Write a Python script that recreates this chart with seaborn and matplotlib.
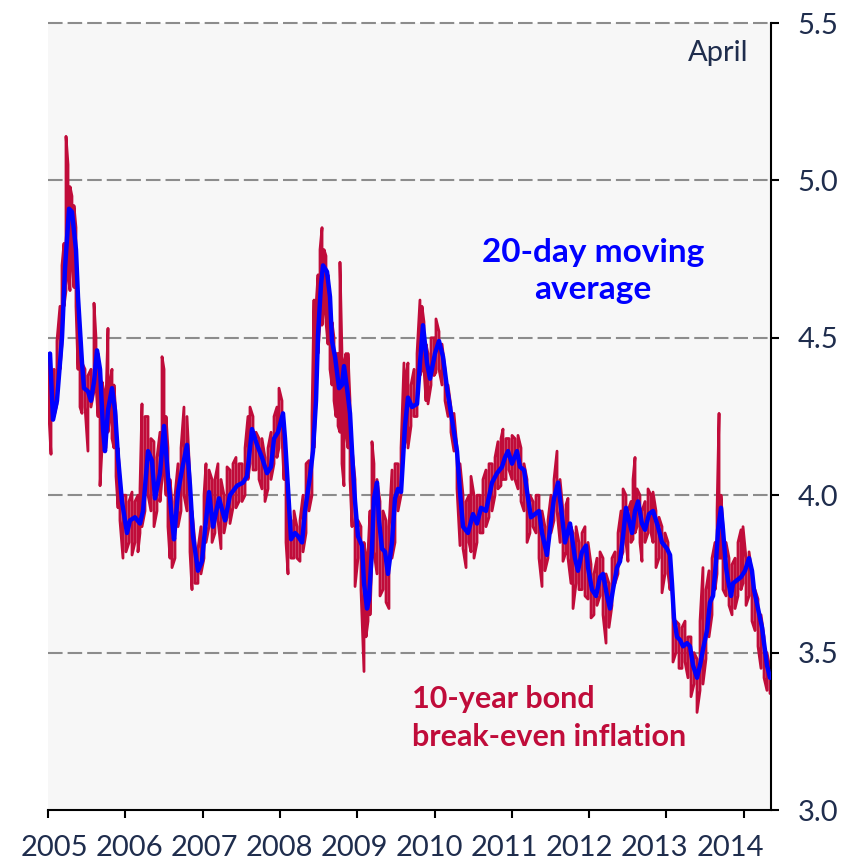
import numpy as np
import pandas as pd
import matplotlib.pyplot as plt
import seaborn as sns

# 20-day moving average: years since 2005-01-01 and level (%)
blue_t = [
    0.026, 0.065, 0.116, 0.181, 0.220, 0.272, 0.310, 0.362, 0.388, 0.440,
    0.466, 0.517, 0.556, 0.595, 0.634, 0.673, 0.712, 0.737, 0.776, 0.828,
    0.867, 0.906, 0.957, 1.022, 1.061, 1.125, 1.190, 1.229, 1.294, 1.345,
    1.384, 1.449, 1.501, 1.552, 1.604, 1.630, 1.682, 1.733, 1.798, 1.837,
    1.876, 1.940, 1.992, 2.031, 2.083, 2.135, 2.212, 2.290, 2.354, 2.445,
    2.523, 2.574, 2.639, 2.704, 2.768, 2.833, 2.885, 2.924, 2.975, 3.040,
    3.066, 3.105, 3.144, 3.195, 3.234, 3.286, 3.325, 3.389, 3.428, 3.467,
    3.493, 3.532, 3.558, 3.609, 3.648, 3.674, 3.713, 3.765, 3.803, 3.829,
    3.868, 3.907, 3.946, 3.972, 4.010, 4.062, 4.088, 4.127, 4.153, 4.191,
    4.217, 4.256, 4.282, 4.321, 4.360, 4.398, 4.450, 4.489, 4.528, 4.567,
    4.618, 4.657, 4.709, 4.774, 4.812, 4.851, 4.903, 4.942, 5.006, 5.058,
    5.110, 5.162, 5.226, 5.291, 5.330, 5.369, 5.433, 5.498, 5.550, 5.602,
    5.666, 5.744, 5.809, 5.873, 5.912, 5.951, 6.003, 6.067, 6.106, 6.158,
    6.210, 6.248, 6.300, 6.352, 6.391, 6.455, 6.494, 6.546, 6.598, 6.637,
    6.688, 6.753, 6.817, 6.856, 6.908, 6.960, 6.986, 7.037, 7.089, 7.141,
    7.180, 7.232, 7.270, 7.309, 7.361, 7.400, 7.439, 7.477, 7.516, 7.555,
    7.594, 7.633, 7.684, 7.723, 7.775, 7.827, 7.891, 7.943, 8.008, 8.047,
    8.072, 8.098, 8.137, 8.176, 8.215, 8.267, 8.305, 8.344, 8.396, 8.435,
    8.473, 8.525, 8.564, 8.603, 8.642, 8.668, 8.706, 8.732, 8.771, 8.797,
    8.836, 8.862, 8.913, 8.965, 9.017, 9.069, 9.107, 9.133, 9.185, 9.237,
    9.263, 9.301, 9.340,
]
blue_val = [
    4.45, 4.24, 4.30, 4.50, 4.72, 4.91, 4.90, 4.78, 4.63, 4.42,
    4.34, 4.33, 4.30, 4.36, 4.46, 4.40, 4.21, 4.14, 4.27, 4.34,
    4.27, 4.12, 3.98, 3.88, 3.92, 3.93, 3.91, 3.95, 4.14, 4.11,
    3.99, 4.07, 4.22, 4.06, 3.92, 3.86, 4.01, 4.08, 4.16, 4.03,
    3.87, 3.76, 3.79, 3.89, 4.01, 3.90, 3.99, 3.92, 4.00, 4.03,
    4.04, 4.06, 4.21, 4.16, 4.12, 4.07, 4.09, 4.18, 4.20, 4.26,
    4.18, 4.02, 3.86, 3.88, 3.87, 3.85, 3.95, 4.06, 4.14, 4.30,
    4.51, 4.67, 4.73, 4.71, 4.63, 4.49, 4.44, 4.34, 4.35, 4.41,
    4.34, 4.26, 4.08, 3.98, 3.87, 3.84, 3.72, 3.64, 3.67, 3.83,
    3.99, 4.04, 3.92, 3.83, 3.82, 3.75, 3.85, 3.99, 4.02, 4.01,
    4.22, 4.31, 4.28, 4.29, 4.42, 4.54, 4.42, 4.37, 4.45, 4.49,
    4.44, 4.34, 4.24, 4.14, 4.01, 3.90, 3.88, 3.94, 3.91, 3.96,
    3.95, 4.04, 4.07, 4.09, 4.12, 4.14, 4.10, 4.14, 4.09, 4.08,
    3.99, 3.93, 3.94, 3.95, 3.88, 3.81, 3.89, 3.99, 4.04, 3.96,
    3.85, 3.91, 3.80, 3.76, 3.82, 3.84, 3.77, 3.70, 3.68, 3.74,
    3.75, 3.68, 3.64, 3.70, 3.77, 3.79, 3.87, 3.96, 3.92, 3.88,
    3.95, 3.98, 3.91, 3.89, 3.94, 3.95, 3.90, 3.85, 3.83, 3.81,
    3.72, 3.61, 3.55, 3.54, 3.52, 3.53, 3.52, 3.46, 3.42, 3.46,
    3.51, 3.57, 3.66, 3.68, 3.79, 3.89, 3.96, 3.89, 3.77, 3.73,
    3.68, 3.72, 3.73, 3.74, 3.76, 3.80, 3.76, 3.70, 3.64, 3.58,
    3.53, 3.46, 3.42,
]

# daily break-even: high / low of each ~2-week stretch
red_t = [
    0.013, 0.039, 0.078, 0.116, 0.155, 0.181, 0.207, 0.233, 0.259, 0.285,
    0.310, 0.336, 0.362, 0.388, 0.414, 0.440, 0.479, 0.517, 0.556, 0.595,
    0.621, 0.647, 0.673, 0.699, 0.724, 0.750, 0.776, 0.802, 0.828, 0.854,
    0.880, 0.906, 0.931, 0.970, 1.009, 1.048, 1.087, 1.125, 1.164, 1.190,
    1.216, 1.255, 1.294, 1.332, 1.371, 1.410, 1.449, 1.475, 1.501, 1.527,
    1.552, 1.578, 1.604, 1.643, 1.682, 1.721, 1.759, 1.798, 1.837, 1.863,
    1.902, 1.940, 1.979, 2.018, 2.044, 2.083, 2.122, 2.160, 2.199, 2.238,
    2.277, 2.316, 2.354, 2.393, 2.432, 2.471, 2.510, 2.549, 2.587, 2.613,
    2.652, 2.691, 2.730, 2.768, 2.807, 2.846, 2.885, 2.924, 2.962, 2.988,
    3.027, 3.053, 3.079, 3.105, 3.144, 3.182, 3.221, 3.260, 3.299, 3.338,
    3.376, 3.415, 3.441, 3.467, 3.493, 3.519, 3.545, 3.571, 3.596, 3.622,
    3.648, 3.674, 3.700, 3.726, 3.752, 3.777, 3.803, 3.829, 3.855, 3.881,
    3.907, 3.933, 3.972, 4.010, 4.049, 4.088, 4.114, 4.140, 4.166, 4.191,
    4.217, 4.256, 4.295, 4.334, 4.373, 4.411, 4.450, 4.489, 4.528, 4.567,
    4.605, 4.631, 4.657, 4.696, 4.735, 4.774, 4.812, 4.838, 4.864, 4.890,
    4.916, 4.955, 4.994, 5.019, 5.058, 5.097, 5.136, 5.175, 5.213, 5.252,
    5.291, 5.330, 5.369, 5.408, 5.446, 5.472, 5.511, 5.550, 5.589, 5.627,
    5.666, 5.705, 5.744, 5.783, 5.821, 5.860, 5.886, 5.925, 5.964, 6.003,
    6.041, 6.080, 6.119, 6.158, 6.197, 6.235, 6.274, 6.313, 6.352, 6.391,
    6.429, 6.468, 6.507, 6.546, 6.585, 6.624, 6.662, 6.701, 6.727, 6.766,
    6.792, 6.831, 6.869, 6.908, 6.947, 6.986, 7.025, 7.063, 7.102, 7.141,
    7.180, 7.219, 7.257, 7.296, 7.335, 7.374, 7.413, 7.439, 7.477, 7.503,
    7.542, 7.568, 7.594, 7.620, 7.658, 7.684, 7.723, 7.762, 7.801, 7.827,
    7.865, 7.904, 7.943, 7.982, 8.021, 8.047, 8.085, 8.124, 8.163, 8.202,
    8.241, 8.279, 8.318, 8.357, 8.396, 8.435, 8.473, 8.512, 8.551, 8.590,
    8.629, 8.655, 8.681, 8.706, 8.732, 8.771, 8.810, 8.849, 8.888, 8.926,
    8.965, 8.991, 9.030, 9.069, 9.107, 9.146, 9.185, 9.224, 9.263, 9.301,
    9.340,
]
red_hi = [
    4.45, 4.30, 4.40, 4.49, 4.60, 4.73, 4.80, 5.14, 5.05, 4.98,
    4.95, 4.92, 4.85, 4.57, 4.50, 4.42, 4.40, 4.38, 4.40, 4.61,
    4.50, 4.45, 4.30, 4.36, 4.33, 4.30, 4.53, 4.36, 4.40, 4.35,
    4.25, 4.15, 4.05, 4.00, 4.00, 3.98, 4.01, 3.98, 4.00, 4.02,
    4.29, 4.25, 4.25, 4.18, 4.17, 4.12, 4.20, 4.44, 4.40, 4.25,
    4.15, 4.05, 3.98, 4.00, 4.10, 4.15, 4.28, 4.25, 4.05, 3.95,
    3.85, 3.83, 3.90, 4.00, 4.10, 4.08, 4.05, 4.05, 4.10, 4.05,
    4.00, 4.09, 4.08, 4.10, 4.12, 4.10, 4.10, 4.15, 4.25, 4.28,
    4.25, 4.20, 4.18, 4.18, 4.12, 4.15, 4.20, 4.25, 4.28, 4.34,
    4.30, 4.22, 4.05, 3.95, 3.92, 3.95, 3.90, 3.92, 4.00, 4.10,
    4.11, 4.25, 4.62, 4.60, 4.70, 4.78, 4.85, 4.78, 4.76, 4.70,
    4.60, 4.55, 4.50, 4.45, 4.45, 4.74, 4.45, 4.42, 4.45, 4.45,
    4.30, 4.15, 4.05, 3.92, 3.90, 3.85, 3.80, 3.82, 3.95, 4.17,
    4.10, 4.05, 3.98, 3.95, 3.92, 3.90, 4.08, 4.10, 4.10, 4.15,
    4.42, 4.38, 4.42, 4.35, 4.40, 4.45, 4.62, 4.60, 4.55, 4.48,
    4.45, 4.50, 4.50, 4.56, 4.52, 4.48, 4.40, 4.35, 4.28, 4.26,
    4.15, 4.10, 4.00, 3.98, 4.00, 4.06, 4.00, 4.00, 4.00, 4.05,
    4.08, 4.10, 4.10, 4.12, 4.17, 4.18, 4.21, 4.18, 4.18, 4.19,
    4.18, 4.19, 4.15, 4.10, 4.05, 4.00, 3.98, 4.00, 4.00, 3.95,
    3.90, 3.92, 4.00, 4.05, 4.14, 4.05, 3.95, 3.97, 3.99, 3.90,
    3.88, 3.90, 3.85, 3.88, 3.90, 3.85, 3.78, 3.75, 3.80, 3.82,
    3.80, 3.75, 3.72, 3.80, 3.82, 3.88, 3.95, 4.02, 4.00, 3.95,
    3.98, 4.05, 4.12, 4.02, 4.00, 3.95, 3.98, 4.02, 4.00, 4.01,
    3.95, 3.93, 3.90, 3.88, 3.85, 3.80, 3.65, 3.60, 3.59, 3.58,
    3.60, 3.55, 3.55, 3.50, 3.48, 3.60, 3.77, 3.70, 3.76, 3.80,
    3.85, 3.95, 4.26, 4.00, 3.90, 3.85, 3.80, 3.78, 3.80, 3.85,
    3.89, 3.90, 3.80, 3.82, 3.75, 3.70, 3.67, 3.62, 3.55, 3.50,
    3.45,
]
red_lo = [
    4.25, 4.13, 4.25, 4.29, 4.40, 4.48, 4.60, 4.65, 4.70, 4.65,
    4.75, 4.66, 4.60, 4.40, 4.28, 4.26, 4.28, 4.14, 4.28, 4.33,
    4.35, 4.25, 4.03, 4.15, 4.14, 4.15, 4.20, 4.25, 4.18, 4.15,
    4.06, 3.96, 3.92, 3.80, 3.82, 3.85, 3.81, 3.85, 3.82, 3.88,
    3.90, 3.95, 4.00, 3.95, 3.90, 3.95, 3.98, 4.05, 4.10, 4.00,
    3.90, 3.80, 3.77, 3.80, 3.90, 3.95, 4.00, 3.95, 3.82, 3.70,
    3.72, 3.72, 3.75, 3.80, 3.85, 3.90, 3.85, 3.88, 3.92, 3.83,
    3.88, 3.93, 3.91, 3.96, 3.96, 3.98, 3.98, 4.00, 4.05, 4.10,
    4.08, 4.08, 4.05, 4.02, 3.98, 4.02, 4.05, 4.10, 4.12, 4.15,
    4.18, 4.05, 3.85, 3.75, 3.80, 3.80, 3.80, 3.79, 3.82, 3.88,
    3.95, 4.00, 4.15, 4.30, 4.45, 4.55, 4.54, 4.60, 4.55, 4.48,
    4.40, 4.35, 4.30, 4.25, 4.22, 4.20, 4.10, 4.03, 4.20, 4.15,
    4.05, 3.90, 3.71, 3.80, 3.70, 3.44, 3.55, 3.60, 3.62, 3.80,
    3.82, 3.75, 3.68, 3.70, 3.66, 3.64, 3.80, 3.85, 3.95, 4.00,
    4.15, 4.18, 4.15, 4.22, 4.25, 4.25, 4.38, 4.40, 4.40, 4.30,
    4.29, 4.35, 4.38, 4.39, 4.40, 4.35, 4.30, 4.25, 4.20, 4.14,
    4.02, 3.84, 3.83, 3.77, 3.85, 3.82, 3.80, 3.85, 3.88, 3.88,
    3.90, 3.93, 3.95, 4.00, 4.02, 4.03, 4.05, 4.05, 4.08, 4.05,
    4.05, 4.02, 3.98, 3.95, 3.85, 3.88, 3.90, 3.88, 3.80, 3.71,
    3.76, 3.80, 3.88, 3.92, 3.95, 3.85, 3.79, 3.82, 3.80, 3.72,
    3.64, 3.72, 3.70, 3.70, 3.68, 3.67, 3.61, 3.62, 3.65, 3.68,
    3.62, 3.53, 3.58, 3.65, 3.72, 3.75, 3.80, 3.82, 3.85, 3.79,
    3.85, 3.86, 3.88, 3.90, 3.85, 3.79, 3.85, 3.88, 3.88, 3.85,
    3.77, 3.80, 3.69, 3.75, 3.75, 3.70, 3.47, 3.50, 3.45, 3.45,
    3.47, 3.42, 3.36, 3.40, 3.31, 3.38, 3.40, 3.48, 3.55, 3.62,
    3.70, 3.75, 3.80, 3.80, 3.70, 3.68, 3.65, 3.62, 3.64, 3.68,
    3.70, 3.72, 3.65, 3.68, 3.60, 3.57, 3.52, 3.45, 3.42, 3.38,
    3.37,
]

year_ticks = list(range(2005, 2015))
value_ticks = [3.0, 3.5, 4.0, 4.5, 5.0, 5.5]

RED = '#C00C3A'
BLUE = '#0000FF'
NAVY = '#1F2D4D'

sns.set_style('white')
plt.rcParams['font.family'] = ['Lato', 'DejaVu Sans']

# high and low of each stretch drawn as strokes, so the series reads as daily noise
pairs = np.column_stack([red_hi, red_lo])
pairs[1::2] = pairs[1::2, ::-1]
red_df = pd.DataFrame({'year': np.repeat(2005 + np.array(red_t), 2),
                       'value': pairs.ravel()})
blue_df = pd.DataFrame({'year': 2005 + np.array(blue_t), 'value': blue_val})

fig = plt.figure(figsize=(8.44, 8.63), dpi=100)
ax = fig.add_axes([48 / 844, 53 / 863, 723 / 844, 787 / 863])
ax.set_facecolor('#F7F7F7')

for v in value_ticks[1:]:
    ax.axhline(v, color='#8C8C8C', lw=1.5, dashes=(7, 2.4), zorder=1, clip_on=False)

sns.lineplot(data=red_df, x='year', y='value', sort=False, estimator=None,
             color=RED, lw=2.0, ax=ax, zorder=2)
sns.lineplot(data=blue_df, x='year', y='value', sort=False, estimator=None,
             color=BLUE, lw=3.2, ax=ax, zorder=3)

ax.set_xlim(2005, 2014.353)
ax.set_ylim(3.0, 5.5)
ax.set_xlabel('')
ax.set_ylabel('')

# year tick marks on the axis; the year labels sit slightly tighter than the marks
ax.set_xticks(year_ticks)
ax.set_xticklabels([])
label_pos = [2005 + (6 + 75.1 * k) / 77.3 for k in range(len(year_ticks))]
ax.set_xticks(label_pos, minor=True)
ax.set_xticklabels([str(y) for y in year_ticks], minor=True)

ax.yaxis.tick_right()
ax.set_yticks(value_ticks)
ax.set_yticklabels([f'{v:.1f}' for v in value_ticks])

ax.tick_params(axis='x', which='major', direction='out', length=6, width=1.5,
               color='black', bottom=True)
ax.tick_params(axis='x', which='minor', length=0, labelsize=21,
               labelcolor=NAVY, pad=18, bottom=True)
ax.tick_params(axis='y', direction='out', length=6, width=1.5, color='black',
               labelsize=21, labelcolor=NAVY, pad=13, right=True, left=False)

for side in ['left', 'top']:
    ax.spines[side].set_visible(False)
for side in ['bottom', 'right']:
    ax.spines[side].set_color('black')
    ax.spines[side].set_linewidth(1.5)

ax.text(2014.056, 5.405, 'April', ha='right', va='center', fontsize=21, color=NAVY)
ax.text(2012.05, 4.712, '20-day moving\naverage', ha='center', va='center',
        fontsize=24, fontweight='bold', color=BLUE, linespacing=1.35)
ax.text(2009.709, 3.292, '10-year bond\nbreak-even inflation', ha='left', va='center',
        multialignment='left', fontsize=22, fontweight='bold', color=RED, linespacing=1.4)

fig.savefig('out.png', dpi=100)
